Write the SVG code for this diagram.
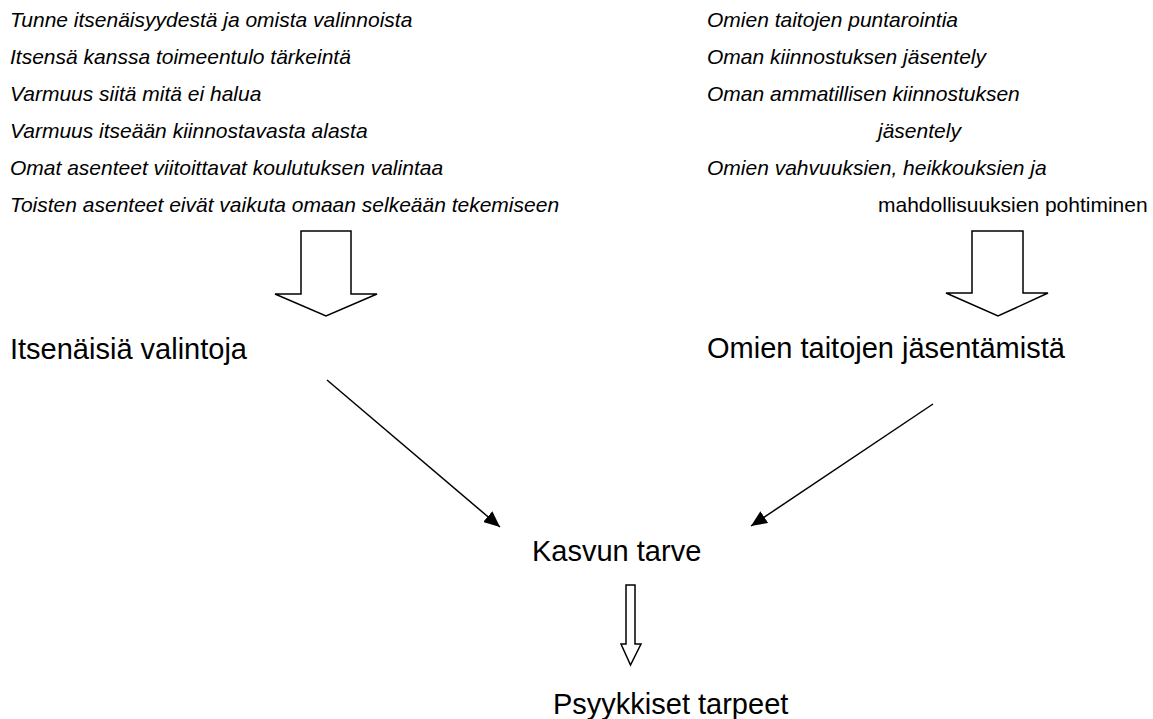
<svg xmlns="http://www.w3.org/2000/svg" width="1153" height="719" viewBox="0 0 1153 719">
<style>
.t{font-family:"Liberation Sans",Arial,sans-serif;font-size:21px;fill:#000}
.i{font-style:italic}
.h{font-family:"Liberation Sans",Arial,sans-serif;font-size:29px;fill:#000}
.blk{fill:#fff;stroke:#000;stroke-width:1.5;stroke-linejoin:miter}
.ln{stroke:#000;stroke-width:1.5;fill:none}
</style>
<defs>
<marker id="ah" markerUnits="userSpaceOnUse" markerWidth="18" markerHeight="14" refX="16" refY="7" orient="auto">
<path d="M0,0 L16,7 L0,14 Z" fill="#000"/>
</marker>
</defs>
<rect width="1153" height="719" fill="#fff"/>
<g id="left-list">
<text class="t i" x="10" y="26.5">Tunne itsenäisyydestä ja omista valinnoista</text>
<text class="t i" x="10" y="63.5">Itsensä kanssa toimeentulo tärkeintä</text>
<text class="t i" x="10" y="100.5">Varmuus siitä mitä ei halua</text>
<text class="t i" x="10" y="137.5">Varmuus itseään kiinnostavasta alasta</text>
<text class="t i" x="10" y="174.5">Omat asenteet viitoittavat koulutuksen valintaa</text>
<text class="t i" x="10" y="211.5">Toisten asenteet eivät vaikuta omaan selkeään tekemiseen</text>
</g>
<g id="right-list">
<text class="t i" x="707" y="26.5">Omien taitojen puntarointia</text>
<text class="t i" x="707" y="63.5">Oman kiinnostuksen jäsentely</text>
<text class="t i" x="707" y="100.5">Oman ammatillisen kiinnostuksen</text>
<text class="t i" x="878" y="137.5">jäsentely</text>
<text class="t i" x="707" y="174.5">Omien vahvuuksien, heikkouksien ja</text>
<text class="t" x="878" y="211.5">mahdollisuuksien pohtiminen</text>
</g>
<g id="node-itsenaisia">
<text class="h" x="10" y="359">Itsenäisiä valintoja</text>
</g>
<g id="node-omien">
<text class="h" x="707" y="358">Omien taitojen jäsentämistä</text>
</g>
<g id="node-kasvun">
<text class="h" x="532" y="561">Kasvun tarve</text>
</g>
<g id="node-psyykkiset">
<text class="h" x="553" y="714">Psyykkiset tarpeet</text>
</g>
<g id="connectors">
<polygon class="blk" points="301,231 351,231 351,294 377,294 326,316 275,294 301,294"/>
<polygon class="blk" points="972,231 1023,231 1023,293 1048,293 998,316 946,293 972,293"/>
<polygon class="blk" points="626,585 635,585 635,644 641,644 630.5,665 621,644 626,644"/>
<line class="ln" x1="327" y1="380" x2="500" y2="527" marker-end="url(#ah)"/>
<line class="ln" x1="933" y1="404" x2="751" y2="526" marker-end="url(#ah)"/>
</g>
</svg>
